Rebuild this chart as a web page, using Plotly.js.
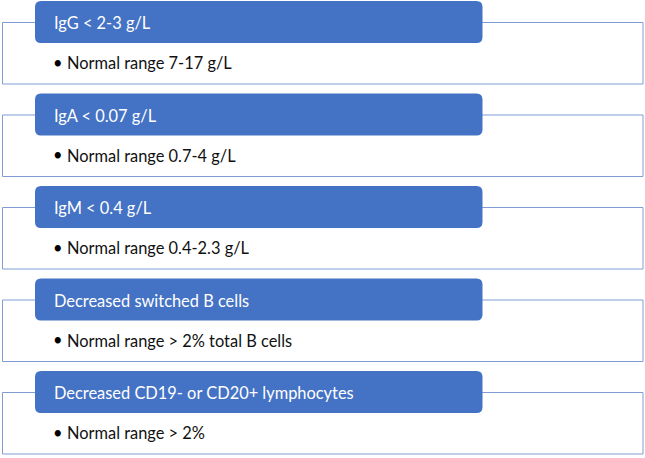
<!DOCTYPE html>
<html>
<head>
<meta charset="utf-8">
<script src="https://cdn.plot.ly/plotly-3.0.1.min.js"></script>
<style>html,body{margin:0;padding:0;background:#fff;}#chart{width:645px;height:458px;}</style>
</head>
<body>
<div id="chart"></div>
<script>
const headers = [
  "IgG < 2-3 g/L",
  "IgA < 0.07 g/L",
  "IgM < 0.4 g/L",
  "Decreased switched B cells",
  "Decreased CD19- or CD20+ lymphocytes"
];
const bullets = [
  "Normal range 7-17 g/L",
  "Normal range 0.7-4 g/L",
  "Normal range 0.4-2.3 g/L",
  "Normal range > 2% total B cells",
  "Normal range > 2%"
];

const W = 645, H = 458;
const step = 92.5, hTop0 = 1, hH = 42;
const hx0 = 35, hx1 = 482.5, r = 6;
const bx0 = 2.5, bx1 = 643;
const blue = "#4472C4", border = "#7F9CD3";
const FONT = "Lato, 'Liberation Sans', sans-serif";
const FS = 16.4;

function roundRect(x0, y0, x1, y1, rr) {
  return `M${x0+rr},${y0} L${x1-rr},${y0} Q${x1},${y0} ${x1},${y0+rr} L${x1},${y1-rr} Q${x1},${y1} ${x1-rr},${y1} L${x0+rr},${y1} Q${x0},${y1} ${x0},${y1-rr} L${x0},${y0+rr} Q${x0},${y0} ${x0+rr},${y0} Z`;
}

const shapes = [], annotations = [];
headers.forEach((h, i) => {
  const t = hTop0 + i * step;
  shapes.push({type: "rect", xref: "x", yref: "y", x0: bx0, x1: bx1, y0: t + 21.5, y1: t + 83,
    line: {color: border, width: 1}, fillcolor: "rgba(255,255,255,1)", layer: "below"});
  shapes.push({type: "path", xref: "x", yref: "y", path: roundRect(hx0, t, hx1, t + hH, r),
    line: {width: 0}, fillcolor: blue, layer: "above"});
  annotations.push({xref: "x", yref: "y", x: 52, y: t + hH / 2 + 0.5, text: h, showarrow: false,
    xanchor: "left", yanchor: "middle", font: {family: FONT, size: FS, color: "#ffffff"}});
  annotations.push({xref: "x", yref: "y", x: 50.5, y: t + 61, text: "•", showarrow: false,
    xanchor: "left", yanchor: "middle", font: {family: FONT, size: FS, color: "#000000"}});
  annotations.push({xref: "x", yref: "y", x: 64.5, y: t + 61.5, text: bullets[i], showarrow: false,
    xanchor: "left", yanchor: "middle", font: {family: FONT, size: FS, color: "#111111"}});
});

Plotly.newPlot("chart", [], {
  width: W, height: H,
  margin: {l: 0, r: 0, t: 0, b: 0, pad: 0},
  paper_bgcolor: "#ffffff", plot_bgcolor: "#ffffff",
  xaxis: {range: [0, W], visible: false, fixedrange: true},
  yaxis: {range: [H, 0], visible: false, fixedrange: true},
  showlegend: false,
  shapes: shapes,
  annotations: annotations
}, {displayModeBar: false, staticPlot: true});
</script>
</body>
</html>
